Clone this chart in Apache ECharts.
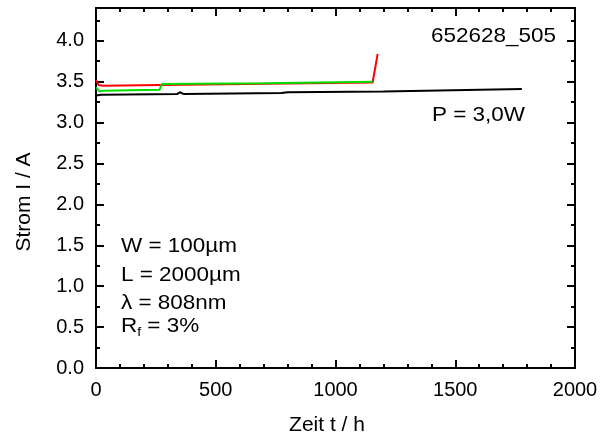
<!DOCTYPE html>
<html>
<head>
<meta charset="utf-8">
<script src="https://cdn.jsdelivr.net/npm/echarts@6/dist/echarts.min.js"></script>
<style>
  html, body { margin: 0; padding: 0; background: #fff; }
  #chart { width: 610px; height: 439px; }
</style>
</head>
<body>
<div id="chart"></div>
<script>
// Messwerte [Zeit h, Strom A]
const blackData = [[0, 3.33], [20, 3.34], [340, 3.35], [350, 3.37], [365, 3.35], [775, 3.36], [800, 3.37], [1200, 3.38], [1778, 3.41]]
const redData = [[0, 3.52], [10, 3.46], [30, 3.45], [268, 3.46], [275, 3.47], [1155, 3.49], [1176, 3.84]]
const greenData = [[0, 3.43], [15, 3.38], [30, 3.39], [265, 3.40], [275, 3.47], [700, 3.48], [1155, 3.50]]

const labels = ['W = 100µm', 'L = 2000µm', 'λ = 808nm']
const font = 'Liberation Sans, Arial, sans-serif'

const chart = echarts.init(document.getElementById('chart'))

const tickX = {
  type: 'value', min: 0, max: 2000, interval: 500,
  axisLine: { show: true, onZero: false, lineStyle: { color: '#000', width: 2 } },
  axisTick: { inside: true, length: 8, lineStyle: { color: '#000', width: 2 } },
  minorTick: { show: true, splitNumber: 5, length: 4, lineStyle: { color: '#000', width: 2 } },
  splitLine: { show: false }
}
const tickY = {
  type: 'value', min: 0, max: 4.4, interval: 0.5,
  axisLine: { show: true, onZero: false, lineStyle: { color: '#000', width: 2 } },
  axisTick: { inside: true, length: 8, lineStyle: { color: '#000', width: 2 } },
  minorTick: { show: true, splitNumber: 2, length: 4, lineStyle: { color: '#000', width: 2 } },
  splitLine: { show: false }
}

function txt(x, y, s, align, extra) {
  return Object.assign({ type: 'text', x: x, y: y, scaleX: 1.07,
    style: { text: s, font: '21px ' + font, fill: '#000', align: align || 'left', verticalAlign: 'middle' } }, extra || {})
}

chart.setOption({
  animation: false,
  grid: { left: 96, right: 35, top: 8, bottom: 71, containLabel: false },
  xAxis: [
    Object.assign({}, tickX, {
      position: 'bottom',
      axisLabel: { fontFamily: font, fontSize: 20, color: '#000', margin: 12, formatter: v => String(v) }
    }),
    Object.assign({}, tickX, { position: 'top', axisLabel: { show: false } })
  ],
  yAxis: [
    Object.assign({}, tickY, {
      position: 'left',
      axisLabel: { fontFamily: font, fontSize: 20, color: '#000', margin: 12, showMaxLabel: false,
        formatter: v => v.toFixed(1) }
    }),
    Object.assign({}, tickY, { position: 'right', axisLabel: { show: false } })
  ],
  series: [
    { type: 'line', data: blackData, showSymbol: false, lineStyle: { color: '#000', width: 2 } },
    { type: 'line', data: redData, showSymbol: false, lineStyle: { color: '#ff0000', width: 2 } },
    { type: 'line', data: greenData, showSymbol: false, lineStyle: { color: '#00e000', width: 2 } }
  ],
  graphic: [
    txt(327, 425, 'Zeit t / h', 'center', { scaleX: 1 }),
    txt(24, 202, 'Strom I / A', 'center', { scaleX: 1, rotation: Math.PI / 2 }),
    txt(556, 36, '652628_505', 'right'),
    txt(432, 115, 'P = 3,0W'),
    txt(121, 246, labels[0]),
    txt(121, 275, labels[1]),
    txt(121, 303, labels[2]),
    { type: 'text', x: 121, y: 326, scaleX: 1.07, style: {
      text: '{a|R}{s|f}{a| = 3%}', verticalAlign: 'middle',
      rich: {
        a: { fontFamily: font, fontSize: 21, fill: '#000' },
        s: { fontFamily: font, fontSize: 13, fill: '#000', verticalAlign: 'bottom', padding: [12, 0, 0, 0] }
      }
    } }
  ]
})
</script>
</body>
</html>
